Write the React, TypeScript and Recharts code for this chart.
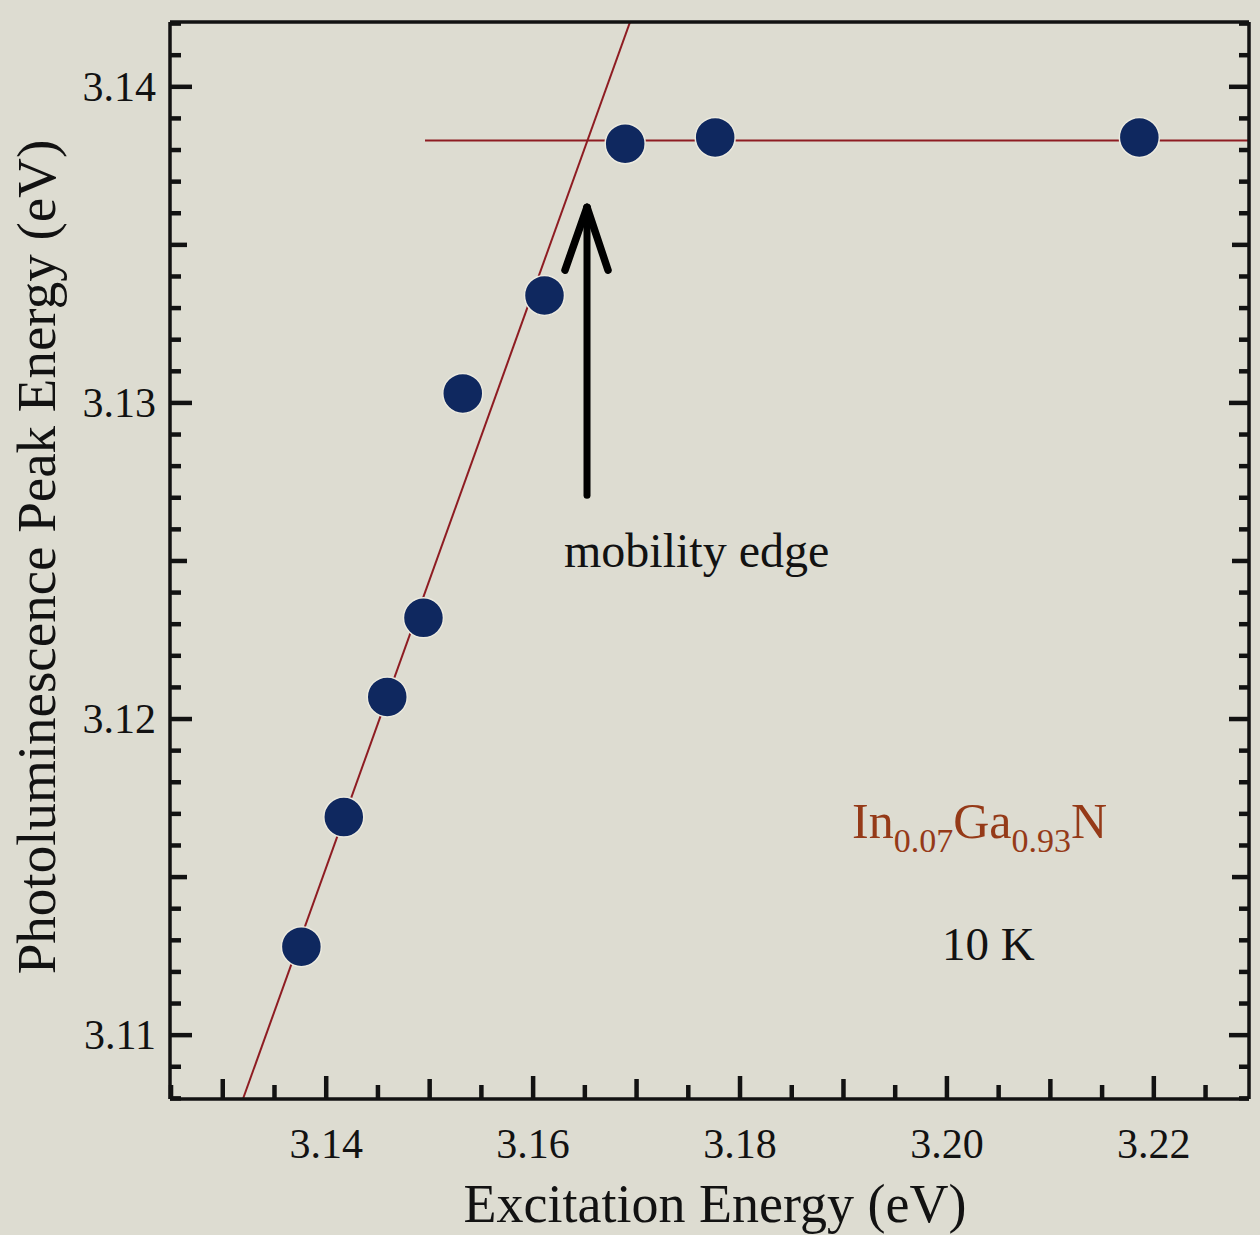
import { ScatterChart, Scatter, XAxis, YAxis, ReferenceLine } from 'recharts';

// measured points: excitation energy vs PL peak energy (eV)
const excitation = [3.1376, 3.1417, 3.1459, 3.1494, 3.1532, 3.1611, 3.1689, 3.1776, 3.2186];
const peakEnergy = [3.1128, 3.1169, 3.1207, 3.1232, 3.1303, 3.1334, 3.1382, 3.1384, 3.1384];

const xDomain = [3.1249, 3.2292];
const yDomain = [3.10798, 3.14205];

const xLabels = [3.14, 3.16, 3.18, 3.2, 3.22];
const yLabels = [3.11, 3.12, 3.13, 3.14];
const xTicks = [
  3.125, 3.13, 3.135, 3.14, 3.145, 3.15, 3.155, 3.16, 3.165, 3.17, 3.175,
  3.18, 3.185, 3.19, 3.195, 3.2, 3.205, 3.21, 3.215, 3.22, 3.225,
];
const yTicks = Array.from({ length: 35 }, (_, i) => Math.round((3.108 + i * 0.001) * 1000) / 1000);

// guide lines
const fitLine = [{ x: 3.13195, y: 3.10798 }, { x: 3.16937, y: 3.14205 }];
const plateau = [{ x: 3.14955, y: 3.1383 }, { x: 3.2292, y: 3.1383 }];
const arrowShaft = [{ x: 3.16521, y: 3.12708 }, { x: 3.16521, y: 3.13619 }];
const arrowLeft = [{ x: 3.16308, y: 3.1342 }, { x: 3.16521, y: 3.13619 }];
const arrowRight = [{ x: 3.16724, y: 3.1342 }, { x: 3.16521, y: 3.13619 }];

const points = excitation.map((x, i) => ({ x, y: peakEnergy[i] }));

const FONT = '"Liberation Serif", "Times New Roman", serif';
const INK = '#121212';
const RED = '#8e1c22';

const isStep = (v: number, step: number) => Math.abs(v / step - Math.round(v / step)) < 1e-6;
const isLabel = (v: number, list: number[]) => list.some((l) => Math.abs(l - v) < 1e-6);

function BottomTick({ x, y, payload }: any) {
  const v = payload.value;
  const labeled = isLabel(v, xLabels);
  const len = labeled ? 23 : isStep(v, 0.01) ? 20 : 14;
  return (
    <g>
      <line x1={x} x2={x} y1={y} y2={y - len} stroke={INK} strokeWidth={4.5} />
      {labeled && (
        <text x={x} y={y + 59} textAnchor="middle" fontFamily={FONT} fontSize={42} fill={INK}>
          {v.toFixed(2)}
        </text>
      )}
    </g>
  );
}

function TopTick({ x, y, payload }: any) {
  const len = isStep(payload.value, 0.01) ? 22 : 13;
  return <line x1={x} x2={x} y1={y} y2={y + len} stroke={INK} strokeWidth={4.5} />;
}

function LeftTick({ x, y, payload }: any) {
  const v = payload.value;
  const labeled = isLabel(v, yLabels);
  const len = labeled ? 22 : isStep(v, 0.005) ? 17 : 11;
  return (
    <g>
      <line x1={x} x2={x + len} y1={y} y2={y} stroke={INK} strokeWidth={4.5} />
      {labeled && (
        <text x={x - 14} y={y} textAnchor="end" dominantBaseline="central" fontFamily={FONT} fontSize={42} fill={INK}>
          {v.toFixed(2)}
        </text>
      )}
    </g>
  );
}

function RightTick({ x, y, payload }: any) {
  const v = payload.value;
  const len = isStep(v, 0.01) ? 20 : isStep(v, 0.005) ? 17 : 10;
  return <line x1={x} x2={x - len} y1={y} y2={y} stroke={INK} strokeWidth={4.5} />;
}

export default function App() {
  const axisLine = { stroke: INK, strokeWidth: 3.5 };
  return (
    <div style={{ position: 'absolute', left: 0, top: 0, width: 1260, height: 1235, background: '#dddcd1' }}>
      <ScatterChart width={1260} height={1235} margin={{ top: 0, right: 0, bottom: 0, left: 0 }}>
        <XAxis
          type="number"
          dataKey="x"
          domain={xDomain}
          allowDataOverflow
          ticks={xTicks}
          interval={0}
          height={136}
          tickSize={0}
          tickMargin={0}
          axisLine={axisLine}
          tickLine={false}
          tick={<BottomTick />}
        />
        <XAxis
          xAxisId="top"
          orientation="top"
          type="number"
          domain={xDomain}
          allowDataOverflow
          ticks={xTicks}
          interval={0}
          height={22}
          tickSize={0}
          tickMargin={0}
          axisLine={axisLine}
          tickLine={false}
          tick={<TopTick />}
        />
        <YAxis
          type="number"
          dataKey="y"
          domain={yDomain}
          allowDataOverflow
          ticks={yTicks}
          interval={0}
          width={170}
          tickSize={0}
          tickMargin={0}
          axisLine={axisLine}
          tickLine={false}
          tick={<LeftTick />}
        />
        <YAxis
          yAxisId="right"
          orientation="right"
          type="number"
          domain={yDomain}
          allowDataOverflow
          ticks={yTicks}
          interval={0}
          width={11}
          tickSize={0}
          tickMargin={0}
          axisLine={axisLine}
          tickLine={false}
          tick={<RightTick />}
        />
        <ReferenceLine segment={fitLine} stroke={RED} strokeWidth={2} ifOverflow="hidden" />
        <ReferenceLine segment={plateau} stroke={RED} strokeWidth={2} ifOverflow="hidden" />
        <ReferenceLine segment={arrowShaft} stroke="#000" strokeWidth={7} strokeLinecap="round" />
        <ReferenceLine segment={arrowLeft} stroke="#000" strokeWidth={7.5} strokeLinecap="round" />
        <ReferenceLine segment={arrowRight} stroke="#000" strokeWidth={7.5} strokeLinecap="round" />
        <Scatter
          data={points}
          isAnimationActive={false}
          shape={(p: any) => (
            <circle cx={p.cx} cy={p.cy} r={20} fill="#0f285f" stroke="#eceadf" strokeWidth={1.5} />
          )}
        />
      </ScatterChart>
      <svg width={1260} height={1235} style={{ position: 'absolute', left: 0, top: 0, pointerEvents: 'none' }}>
        <text x={715} y={1222} textAnchor="middle" fontFamily={FONT} fontSize={54} fill={INK}>
          Excitation Energy (eV)
        </text>
        <text transform="translate(55,557) rotate(-90)" textAnchor="middle" fontFamily={FONT} fontSize={55} fill={INK}>
          Photoluminescence Peak Energy (eV)
        </text>
        <text x={564} y={567} fontFamily={FONT} fontSize={48} fill={INK}>
          mobility edge
        </text>
        <text x={852} y={838} fontFamily={FONT} fontSize={50} fill="#953a18">
          In
          <tspan fontSize={34} dy={14}>0.07</tspan>
          <tspan dy={-14}>Ga</tspan>
          <tspan fontSize={34} dy={14}>0.93</tspan>
          <tspan dy={-14}>N</tspan>
        </text>
        <text x={942} y={960} fontFamily={FONT} fontSize={47} fill={INK}>
          10 K
        </text>
      </svg>
    </div>
  );
}
